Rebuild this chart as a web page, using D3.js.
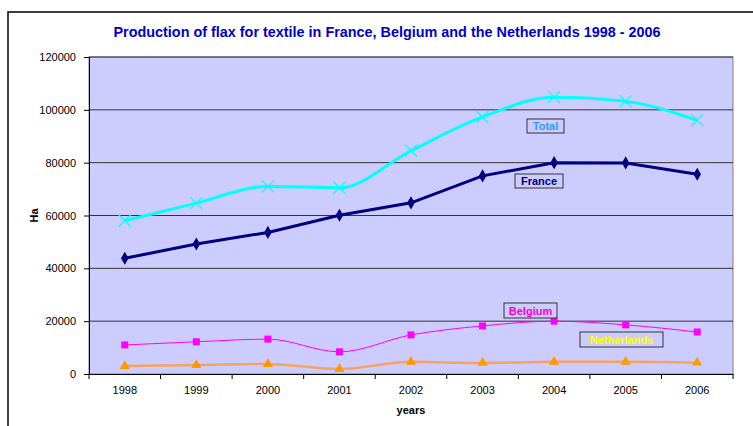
<!DOCTYPE html>
<html>
<head>
<meta charset="utf-8">
<script src="https://cdn.jsdelivr.net/npm/d3@7"></script>
<style>
  body { margin: 0; background: #fff; }
  text { font-family: "Liberation Sans", Arial, sans-serif; }
</style>
</head>
<body>
<div id="chart"></div>
<script>
var years = ["1998", "1999", "2000", "2001", "2002", "2003", "2004", "2005", "2006"];
var total = [58000, 64700, 71000, 70500, 84500, 97300, 104800, 103200, 96000];
var france = [43800, 49200, 53600, 60100, 64800, 75000, 80000, 79900, 75600];
var belgium = [11000, 12200, 13200, 8400, 14800, 18200, 20000, 18600, 15900];
var netherlands = [3000, 3400, 3800, 1900, 4600, 4200, 4600, 4600, 4300];
var yTicks = [0, 20000, 40000, 60000, 80000, 100000, 120000];

var margin = { left: 89, right: 20, top: 57, bottom: 52 };
var W = 753, H = 426;
var width = 733 - margin.left;
var height = 374 - margin.top;

var svg = d3.select("#chart").append("svg")
  .attr("width", W).attr("height", H);

// outer frame
svg.append("rect")
  .attr("x", 8).attr("y", 12)
  .attr("width", 760).attr("height", 430)
  .attr("fill", "white").attr("stroke", "black").attr("stroke-width", 1.5);

svg.append("text")
  .attr("x", 387).attr("y", 37)
  .attr("text-anchor", "middle")
  .attr("font-size", 14.4).attr("font-weight", "bold")
  .attr("fill", "#0000CC")
  .text("Production of flax for textile in France, Belgium and the Netherlands 1998 - 2006");

var g = svg.append("g").attr("transform", "translate(" + margin.left + "," + margin.top + ")");

var x = d3.scaleBand().domain(years).range([0, width]);
var y = d3.scaleLinear().domain([0, 120000]).range([height, 0]);

g.append("rect")
  .attr("width", width).attr("height", height)
  .attr("fill", "#CCCCFF").attr("stroke", "#808080");

// gridlines
g.selectAll(".grid").data(yTicks.slice(1))
  .enter().append("line")
  .attr("x1", 0).attr("x2", width)
  .attr("y1", function(d) { return y(d); })
  .attr("y2", function(d) { return y(d); })
  .attr("stroke", "#333").attr("stroke-width", 1);

var yAxis = g.append("g")
  .call(d3.axisLeft(y).tickValues(yTicks).tickSize(5).tickPadding(8).tickFormat(d3.format("d")));
yAxis.select(".domain").attr("stroke", "#000");
yAxis.selectAll("text").attr("font-size", 11).attr("fill", "#000");

var xAxis = g.append("g").attr("transform", "translate(0," + height + ")")
  .call(d3.axisBottom(x).tickSize(0).tickPadding(12));
xAxis.select(".domain").attr("stroke", "#000");
xAxis.selectAll("text").attr("font-size", 11).attr("fill", "#000");
// ticks between categories
g.selectAll(".xt").data(years.concat(["end"]))
  .enter().append("line")
  .attr("x1", function(d, i) { return i * x.bandwidth(); })
  .attr("x2", function(d, i) { return i * x.bandwidth(); })
  .attr("y1", height).attr("y2", height + 5)
  .attr("stroke", "#000");

svg.append("text")
  .attr("x", margin.left + width / 2).attr("y", 414)
  .attr("text-anchor", "middle").attr("font-size", 11).attr("font-weight", "bold")
  .text("years");

svg.append("text")
  .attr("transform", "translate(38," + (margin.top + height / 2) + ") rotate(-90)")
  .attr("text-anchor", "middle").attr("font-size", 11).attr("font-weight", "bold")
  .text("Ha");

function cx(i) { return x(years[i]) + x.bandwidth() / 2; }

function makeLine(curve) {
  return d3.line()
    .x(function(d, i) { return cx(i); })
    .y(function(d) { return y(d); })
    .curve(curve);
}

var series = [
  { name: "Netherlands", values: netherlands, line: "#F4A460", width: 2.5, marker: "triangle", mcolor: "#FF9900", curve: d3.curveMonotoneX },
  { name: "Belgium", values: belgium, line: "#FF00FF", width: 1, marker: "square", mcolor: "#FF00FF", curve: d3.curveMonotoneX },
  { name: "France", values: france, line: "#000080", width: 3, marker: "diamond", mcolor: "#000080", curve: d3.curveLinear },
  { name: "Total", values: total, line: "#00FFFF", width: 3, marker: "cross", mcolor: "#00FFFF", curve: d3.curveMonotoneX }
];

series.forEach(function(s) {
  g.append("path")
    .attr("d", makeLine(s.curve)(s.values))
    .attr("fill", "none")
    .attr("stroke", s.line)
    .attr("stroke-width", s.width);

  var pts = g.selectAll(null).data(s.values).enter().append("g")
    .attr("transform", function(d, i) { return "translate(" + cx(i) + "," + y(d) + ")"; });

  if (s.marker === "cross") {
    pts.append("path").attr("d", "M-6,-6L6,6M-6,6L6,-6")
      .attr("stroke", s.mcolor).attr("stroke-width", 1.2);
  } else if (s.marker === "diamond") {
    pts.append("path").attr("d", d3.symbol().type(d3.symbolDiamond).size(50))
      .attr("fill", s.mcolor);
  } else if (s.marker === "square") {
    pts.append("rect").attr("x", -3.5).attr("y", -3.5).attr("width", 7).attr("height", 7)
      .attr("fill", s.mcolor);
  } else {
    pts.append("path").attr("d", d3.symbol().type(d3.symbolTriangle).size(45))
      .attr("fill", s.mcolor);
  }
});

// data labels in boxes
var labels = [
  { text: "Total", color: "#3399FF", x: 527, y: 119, w: 37, h: 14 },
  { text: "France", color: "#000080", x: 515, y: 174, w: 48, h: 14 },
  { text: "Belgium", color: "#FF00CC", x: 504, y: 303, w: 53, h: 15 },
  { text: "Netherlands", color: "#FFFF00", x: 580, y: 332, w: 83, h: 15 }
];
labels.forEach(function(l) {
  svg.append("rect")
    .attr("x", l.x).attr("y", l.y).attr("width", l.w).attr("height", l.h)
    .attr("fill", "#CCCCFF").attr("stroke", "#333").attr("stroke-width", 1);
  svg.append("text")
    .attr("x", l.x + l.w / 2).attr("y", l.y + l.h / 2 + 4)
    .attr("text-anchor", "middle").attr("font-size", 11).attr("font-weight", "bold")
    .attr("fill", l.color)
    .text(l.text);
});
</script>
</body>
</html>
